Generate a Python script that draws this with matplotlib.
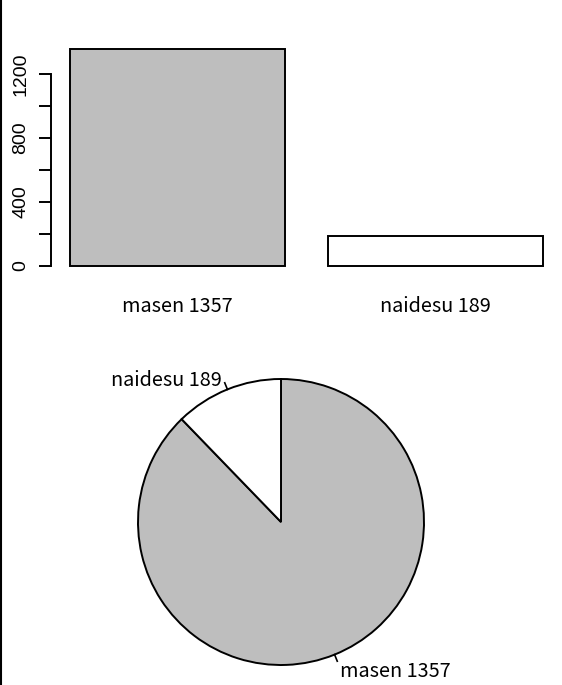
import numpy as np
import matplotlib.pyplot as plt
from matplotlib.lines import Line2D
from matplotlib.transforms import offset_copy

# data
names = ["masen", "naidesu"]
counts = [1357, 189]
fills = ["#bebebe", "white"]
yticks = [0, 200, 400, 600, 800, 1000, 1200]
ylabels = ["0", "", "400", "", "800", "", "1200"]

W, H = 562, 685
fig = plt.figure(figsize=(W / 100, H / 100), dpi=100)
label_font = ["Noto Sans CJK JP", "DejaVu Sans"]
labels = [f"{n} {c}" for n, c in zip(names, counts)]

# ---- bar plot (R style barplot) ----
x = 0.2 + 1.2 * np.arange(len(counts)) + 0.5
ax = fig.add_axes([51 / W, (H - 274.7) / H, (W - 51) / W, (274.7 - 40) / H])
ax.bar(x, counts, width=1.0, color=fills, edgecolor="black", linewidth=1.4)
ax.set_xlim(0.112, 2.488)
ax.set_ylim(-0.04 * max(counts), 1.04 * max(counts))
for s in ["top", "right", "bottom"]:
    ax.spines[s].set_visible(False)
ax.spines["left"].set_bounds(0, 1200)
ax.spines["left"].set_linewidth(1.4)
ax.set_yticks(yticks)
ax.set_yticklabels(ylabels, rotation=90, va="center", family="Liberation Sans", fontsize=14)
ax.tick_params(axis="y", length=8.6, width=1.4, pad=7)
ax.set_xticks(x)
ax.set_xticklabels(labels, family=label_font, fontsize=14.3)
ax.tick_params(axis="x", length=0, pad=15)

# ---- pie (clockwise, starting at top) ----
s = 143 / 0.8  # px per data unit
cx, cy = 281, H - 522
pax = fig.add_axes([0, 0, 1, 345 / H])
pax.pie(counts, colors=fills, startangle=90, counterclock=False, radius=0.8,
        wedgeprops=dict(edgecolor="black", linewidth=1.4))
pax.set_xlim(-cx / s, (W - cx) / s)
pax.set_ylim(-cy / s, (345 - cy) / s)
pax.set_aspect("auto")
pax.axis("off")

frac = np.array(counts) / sum(counts)
ends = 90 - 360 * np.cumsum(frac)
mids = np.deg2rad(ends + 180 * frac)
shifted = offset_copy(pax.transData, fig=fig, y=-4, units="dots")
for lab, a in zip(labels, mids):
    px, py = np.cos(a), np.sin(a)
    pax.plot([0.8 * px, 0.84 * px], [0.8 * py, 0.84 * py], color="black", lw=1.2)
    pax.text(0.88 * px, 0.88 * py, lab, ha="left" if px > 0 else "right",
             va="center", family=label_font, fontsize=14.3, transform=shifted)

fig.add_artist(Line2D([0.5 / W, 0.5 / W], [0, 1], color="black", lw=1.5))

plt.savefig("out.png", dpi=100)
